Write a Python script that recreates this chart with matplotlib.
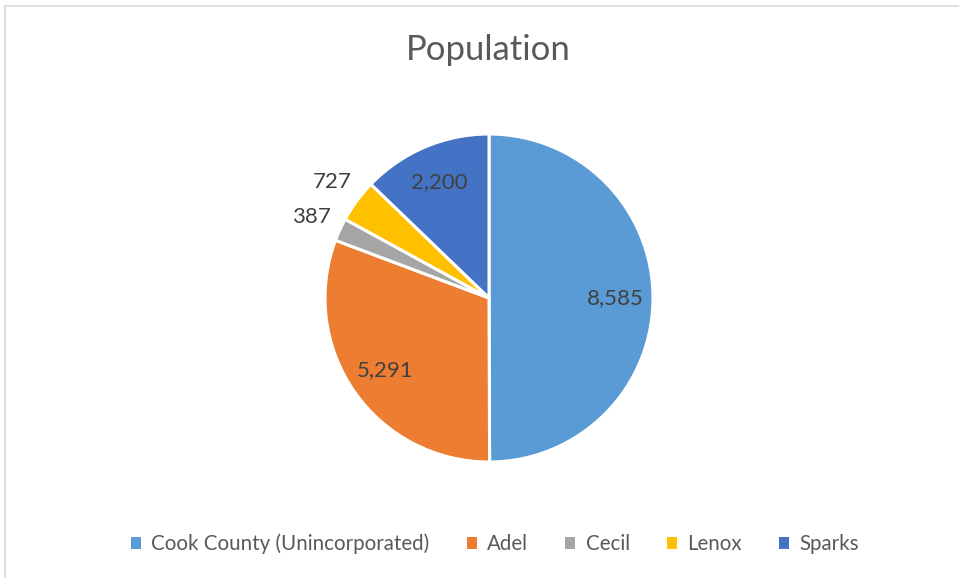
import matplotlib.pyplot as plt
from matplotlib.patches import Rectangle, Patch
import numpy as np

names = ["Cook County (Unincorporated)", "Adel", "Cecil", "Lenox", "Sparks"]
population = [8585, 5291, 387, 727, 2200]
colors = ["#5B9BD5", "#ED7D31", "#A5A5A5", "#FFC000", "#4472C4"]
outside = [False, False, True, True, False]

plt.rcParams['font.family'] = ['Lato', 'DejaVu Sans']

fig = plt.figure(figsize=(9.59, 5.78), dpi=100)
W, H = 959, 578

# chart border (Excel style), right/bottom edges cropped off
fig.patches.append(Rectangle((4.5 / W, -0.1), 1.2, 1.1 - 6.5 / H,
                             transform=fig.transFigure, fill=False,
                             edgecolor="#D9D9D9", lw=1.2))

cx, cy, R = 489, 298, 164
lim = 1.3
side = 2 * lim * R
ax = fig.add_axes([(cx - side / 2) / W, (H - cy - side / 2) / H, side / W, side / H])
wedges, _ = ax.pie(population, colors=colors, startangle=90, counterclock=False,
                   radius=1, wedgeprops=dict(edgecolor="white", linewidth=2.2))
ax.set_xlim(-lim, lim)
ax.set_ylim(-lim, lim)
ax.set_aspect("equal")
ax.axis("off")

for w, val, out in zip(wedges, population, outside):
    mid = np.deg2rad((w.theta1 + w.theta2) / 2)
    r = 1.19 if out else 0.77
    ax.text(r * np.cos(mid), r * np.sin(mid), f"{val:,}", ha="center", va="center",
            fontsize=16, color="#404040")

fig.text(488 / W, 1 - 50 / H, "Population", ha="center", va="center",
         fontsize=25, color="#595959")

handles = [Patch(facecolor=c, edgecolor="none") for c in colors]
fig.legend(handles, names, loc="center", bbox_to_anchor=(495 / W, 1 - 544 / H), ncol=5,
           frameon=False, fontsize=14.8, labelcolor="#595959",
           handlelength=0.5, handleheight=0.5, handletextpad=0.5, columnspacing=1.8)

fig.savefig("out.png", dpi=100)
